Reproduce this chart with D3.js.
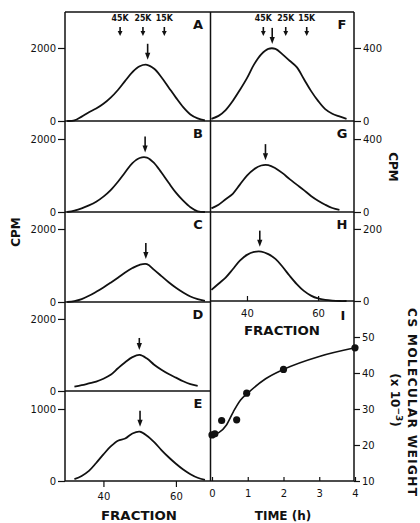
<!DOCTYPE html>
<html lang="en">
<head>
    <meta charset="UTF-8">
    <title>CS molecular weight</title>
    <script src="https://d3js.org/d3.v7.min.js"></script>
    <style>
        body { margin: 0; background: #fff; }
        svg text { font-family: "DejaVu Sans", Arial, sans-serif; fill: #111; }
        .tick-label { font-size: 10px; }
        .title { font-size: 12px; font-weight: bold; }
        .letter { font-size: 13px; font-weight: bold; }
    </style>
</head>
<body>
    <div id="chart"></div>
    <script>
        // fraction grid shared by all profiles
        const fractions = [30, 32, 34, 36, 38, 40, 42, 44, 46, 48, 50, 52, 54, 56, 58, 60, 62, 64, 66, 68];

        // CPM profiles (null = no curve there)
        const cpmA = [0, 15, 120, 240, 340, 470, 640, 850, 1100, 1340, 1500, 1540, 1430, 1200, 920, 640, 380, 180, 70, 15];
        const cpmB = [0, 40, 100, 180, 280, 420, 600, 830, 1090, 1340, 1480, 1490, 1340, 1080, 800, 530, 310, 130, 20, 0];
        const cpmC = [0, 25, 80, 170, 280, 400, 530, 665, 810, 930, 1020, 1040, 880, 710, 540, 390, 260, 150, 80, 30];
        const cpmD = [null, 120, 160, 210, 260, 340, 450, 630, 800, 940, 1000, 900, 730, 590, 470, 370, 270, 190, 140, null];
        const cpmE = [null, 25, 70, 140, 250, 370, 480, 560, 590, 660, 685, 630, 540, 430, 330, 240, 160, 95, 45, 15];
        const cpmF = [12, 28, 60, 110, 170, 235, 310, 365, 395, 395, 365, 330, 295, 230, 165, 110, 65, 40, 25, 12];
        const cpmG = [20, 40, 70, 100, 150, 200, 235, 255, 257, 240, 213, 180, 150, 120, 88, 62, 40, 22, 12, null];
        const cpmH = [31, 48, 65, 88, 112, 128, 136, 137, 130, 117, 95, 70, 47, 28, 15, 7, 3, 1, 0, 0];

        // peak arrows (fraction) for A..H
        const peakArrows = [52.2, 51.5, 51.7, 49.9, 50.1, 47.1, 45.2, 43.6];

        // size standards
        const standardFractions = [44.6, 50.9, 56.8];
        const standardLabels = ["45K", "25K", "15K"];

        // panel I: molecular weight vs time
        const timeHours = [0, 0.08, 0.27, 0.69, 0.97, 2, 4];
        const mwValues = [22.8, 23.1, 26.8, 27.0, 34.4, 41.0, 47.0];
        const fitHours = [0, 0.2, 0.4, 0.6, 0.8, 1, 1.5, 2, 3, 4];
        const fitMw = [22.8, 23.5, 25.5, 29.3, 32.5, 34.4, 38.4, 41, 44.6, 47];
        const timeTicks = [0, 1, 2, 3, 4];
        const mwTicks = [10, 20, 30, 40, 50];

        const width = 420, height = 523;
        const svg = d3.select("#chart").append("svg")
            .attr("width", width).attr("height", height);

        const leftX = d3.scaleLinear().domain([29.4, 69.4]).range([65, 210]);
        const rightX = d3.scaleLinear().domain([29.6, 70.1]).range([210, 354]);

        const panels = [
            { id: "A", values: cpmA, x: leftX, top: 12, bottom: 121, max: 2986, ticks: [0, 2000], side: "left", std: true },
            { id: "B", values: cpmB, x: leftX, top: 121, bottom: 212, max: 2493, ticks: [0, 2000], side: "left" },
            { id: "C", values: cpmC, x: leftX, top: 212, bottom: 302, max: 2466, ticks: [0, 2000], side: "left" },
            { id: "D", values: cpmD, x: leftX, top: 302, bottom: 391, max: 2470, ticks: [0, 2000], side: "left" },
            { id: "E", values: cpmE, x: leftX, top: 391, bottom: 481, max: 1250, ticks: [0, 1000], side: "left" },
            { id: "F", values: cpmF, x: rightX, top: 12, bottom: 121, max: 597, ticks: [0, 400], side: "right", std: true },
            { id: "G", values: cpmG, x: rightX, top: 121, bottom: 212, max: 499, ticks: [0, 400], side: "right" },
            { id: "H", values: cpmH, x: rightX, top: 212, bottom: 301, max: 247, ticks: [0, 200], side: "right" }
        ];

        function arrow(g, x, tipY, len, head, w) {
            g.append("line")
                .attr("x1", x).attr("x2", x)
                .attr("y1", tipY - len).attr("y2", tipY - head + 1)
                .attr("stroke", "#111").attr("stroke-width", 1.6);
            g.append("path")
                .attr("d", `M${x - w},${tipY - head} L${x + w},${tipY - head} L${x},${tipY} Z`)
                .attr("fill", "#111");
        }

        function styleAxis(ax) {
            ax.select(".domain").remove();
            ax.selectAll("line").attr("stroke", "#111").attr("stroke-width", 1.2);
            ax.selectAll("text").attr("class", "tick-label").attr("font-family", null).attr("font-size", null);
        }

        panels.forEach((p, i) => {
            const y = d3.scaleLinear().domain([0, p.max]).range([p.bottom, p.top]);
            const g = svg.append("g");

            // baseline
            g.append("line")
                .attr("x1", p.x.range()[0]).attr("x2", p.x.range()[1])
                .attr("y1", p.bottom).attr("y2", p.bottom)
                .attr("stroke", "#111").attr("stroke-width", 1.5);

            // y axis ticks
            const axis = p.side === "left" ? d3.axisLeft(y) : d3.axisRight(y);
            const ax = g.append("g")
                .attr("transform", `translate(${p.side === "left" ? 65 : 354},0)`)
                .call(axis.tickValues(p.ticks).tickSize(7).tickPadding(2).tickFormat(d3.format("d")));
            styleAxis(ax);

            // profile
            const line = d3.line()
                .defined((d, k) => p.values[k] !== null)
                .x(d => p.x(d))
                .y((d, k) => y(p.values[k]))
                .curve(d3.curveCatmullRom.alpha(0.5));
            g.append("path")
                .attr("d", line(fractions))
                .attr("fill", "none").attr("stroke", "#111").attr("stroke-width", 1.8);

            // peak arrow
            const peakY = y(d3.max(p.values.filter(v => v !== null)));
            arrow(g, p.x(peakArrows[i]), peakY - 5, p.id === "D" ? 12 : 16, 7, 2.6);

            // panel letter
            g.append("text").attr("class", "letter")
                .attr("x", p.side === "left" ? 198 : 342)
                .attr("y", p.top + 17)
                .attr("text-anchor", "middle")
                .text(p.id);

            // size standards
            if (p.std) {
                standardFractions.forEach((f, j) => {
                    const sx = p.x(f);
                    g.append("text")
                        .attr("x", sx).attr("y", 21)
                        .attr("text-anchor", "middle")
                        .attr("font-size", 8.5).attr("font-weight", "bold")
                        .attr("textLength", 17).attr("lengthAdjust", "spacingAndGlyphs")
                        .text(standardLabels[j]);
                    arrow(g, sx, 36, 9, 5, 2.4);
                });
            }
        });

        // frame lines
        const frame = svg.append("g").attr("stroke", "#111").attr("stroke-width", 1.5);
        frame.append("line").attr("x1", 65).attr("x2", 354).attr("y1", 12).attr("y2", 12);
        frame.append("line").attr("x1", 65).attr("x2", 65).attr("y1", 12).attr("y2", 481);
        frame.append("line").attr("x1", 210.5).attr("x2", 210.5).attr("y1", 12).attr("y2", 481);
        frame.append("line").attr("x1", 354).attr("x2", 354).attr("y1", 12).attr("y2", 481);

        // fraction axis under E
        const fracBottom = svg.append("g")
            .attr("transform", "translate(0,481)")
            .call(d3.axisBottom(leftX).tickValues([40, 60]).tickSize(6).tickPadding(6));
        styleAxis(fracBottom);

        // fraction ticks under H (pointing up), labels inside I
        const fracH = svg.append("g")
            .attr("transform", "translate(0,301)")
            .call(d3.axisBottom(rightX).tickValues([40, 60]).tickSizeInner(-5).tickSizeOuter(0).tickPadding(9));
        styleAxis(fracH);

        // panel I
        const tx = d3.scaleLinear().domain([0, 4]).range([212, 355]);
        const my = d3.scaleLinear().domain([10, 60]).range([481, 301]);

        svg.append("line")
            .attr("x1", 210).attr("x2", 354).attr("y1", 481).attr("y2", 481)
            .attr("stroke", "#111").attr("stroke-width", 1.5);

        const timeAxis = svg.append("g")
            .attr("transform", "translate(0,481)")
            .call(d3.axisBottom(tx).tickValues(timeTicks).tickFormat(d3.format("d"))
                .tickSizeInner(-4).tickSizeOuter(0).tickPadding(9));
        styleAxis(timeAxis);

        const mwAxis = svg.append("g")
            .attr("transform", "translate(354,0)")
            .call(d3.axisRight(my).tickValues(mwTicks).tickSize(6).tickPadding(2));
        styleAxis(mwAxis);

        const fit = d3.line()
            .x(d => tx(d))
            .y((d, k) => my(fitMw[k]))
            .curve(d3.curveMonotoneX);
        svg.append("path")
            .attr("d", fit(fitHours))
            .attr("fill", "none").attr("stroke", "#111").attr("stroke-width", 1.6);

        svg.append("g").selectAll("circle")
            .data(timeHours)
            .enter()
            .append("circle")
            .attr("cx", d => tx(d))
            .attr("cy", (d, k) => my(mwValues[k]))
            .attr("r", 3.6)
            .attr("fill", "#111");

        svg.append("text").attr("class", "letter")
            .attr("x", 343).attr("y", 320).attr("text-anchor", "middle")
            .attr("font-family", "Liberation Serif")
            .text("I");

        // titles
        svg.append("text").attr("class", "title")
            .attr("x", 139).attr("y", 520).attr("text-anchor", "middle")
            .attr("textLength", 76).attr("lengthAdjust", "spacingAndGlyphs")
            .text("FRACTION");
        svg.append("text").attr("class", "title")
            .attr("x", 282).attr("y", 335).attr("text-anchor", "middle")
            .attr("textLength", 76).attr("lengthAdjust", "spacingAndGlyphs")
            .text("FRACTION");
        svg.append("text").attr("class", "title")
            .attr("x", 283).attr("y", 520).attr("text-anchor", "middle")
            .text("TIME (h)");

        svg.append("text").attr("class", "title")
            .attr("transform", "translate(20,232) rotate(-90)")
            .attr("text-anchor", "middle")
            .text("CPM");
        svg.append("text").attr("class", "title")
            .attr("transform", "translate(389,167) rotate(90)")
            .attr("text-anchor", "middle")
            .text("CPM");
        svg.append("text").attr("class", "title")
            .attr("transform", "translate(408,402) rotate(90)")
            .attr("text-anchor", "middle")
            .attr("textLength", 188).attr("lengthAdjust", "spacing")
            .text("CS MOLECULAR WEIGHT");

        const sub = svg.append("text").attr("class", "title")
            .attr("transform", "translate(391,400) rotate(90)")
            .attr("text-anchor", "middle");
        sub.append("tspan").text("(x 10");
        sub.append("tspan").attr("dy", -5).attr("font-size", 9).text("−3");
        sub.append("tspan").attr("dy", 5).text(")");
    </script>
</body>
</html>
